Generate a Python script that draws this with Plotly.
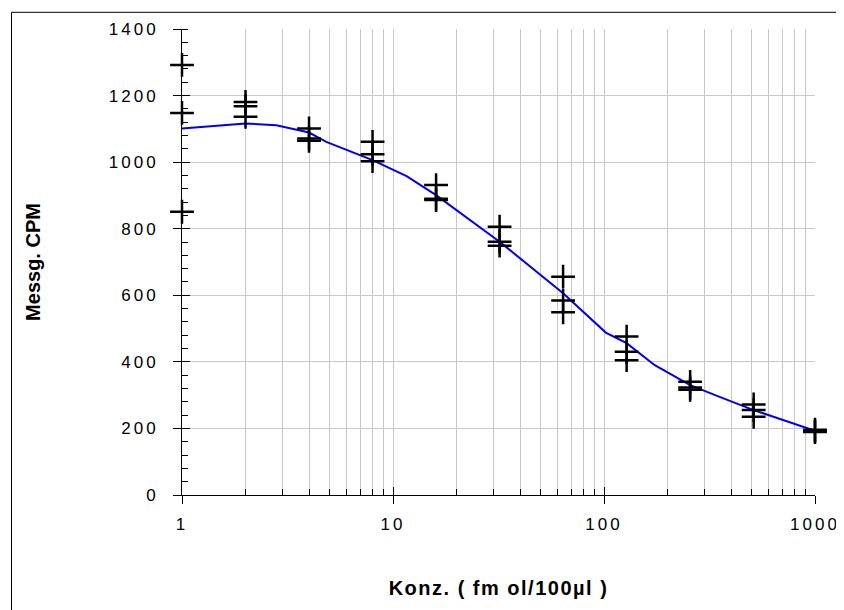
import plotly.graph_objects as go

# measured points (concentration fmol/100µl, CPM)
conc = [1, 1, 1, 2, 2, 2, 4, 4, 4, 8, 8, 8, 16, 16, 16, 32, 32, 32,
        64, 64, 64, 128, 128, 128, 256, 256, 256, 512, 512, 512, 1000, 1000, 1000]
cpm = [1292, 1148, 851, 1181, 1168, 1136, 1101, 1071, 1064, 1061, 1024, 1003,
       931, 890, 886, 806, 761, 749, 656, 584, 549, 476, 430, 405,
       340, 323, 316, 272, 255, 235, 196, 192, 189]

# fitted curve
fit_x = [1, 2, 2.8, 4, 4.83, 8, 11.6, 16, 32, 64, 102, 128, 174, 256, 353, 512, 1000]
fit_y = [1101, 1116, 1111, 1089, 1061, 1006, 958, 901, 761, 606, 488, 456, 390, 330, 295, 255, 193]

x_major = [1, 10, 100, 1000]
x_minor = [m * d for d in (1, 10, 100) for m in range(2, 10)]
y_major = [0, 200, 400, 600, 800, 1000, 1200, 1400]

fig = go.Figure()
fig.add_trace(go.Scatter(x=fit_x, y=fit_y, mode="lines",
                         line=dict(color="#0000f0", width=2), cliponaxis=False,
                         showlegend=False))
fig.add_trace(go.Scatter(x=conc, y=cpm, mode="markers",
                         marker=dict(symbol="cross-thin", size=17,
                                     line=dict(color="black", width=2.5)),
                         cliponaxis=False, showlegend=False))
# dummy trace for overlay axes (inside major ticks)
fig.add_trace(go.Scatter(x=[], y=[], xaxis="x2", yaxis="y2", showlegend=False))

tickfont = dict(family="Liberation Sans, Arial", size=17, color="black")
grid = "#c8c8c8"

W, H = 836, 602
L, R, T, B = 174, 29, 21, 115
pw, ph = W - L - R, H - T - B

fig.update_layout(
    width=W, height=H,
    margin=dict(l=L, r=R, t=T, b=B),
    paper_bgcolor="white", plot_bgcolor="white",
    xaxis=dict(type="log", range=[0, 3], tickvals=x_major,
               ticktext=[str(v) for v in x_major],
               ticks="outside", ticklen=8, tickcolor="black", tickwidth=1,
               showline=True, linecolor="black", linewidth=1,
               showgrid=True, gridcolor=grid, gridwidth=1,
               tickfont=tickfont, ticklabelstandoff=6, automargin=False,
               minor=dict(tickmode="array", tickvals=x_minor, ticks="inside",
                          ticklen=6, tickcolor="black", showgrid=True,
                          gridcolor=grid, gridwidth=1),
               zeroline=False,
               title=dict(text="<b>Konz. ( fm ol/100µl )</b>",
                          font=dict(family="Liberation Sans, Arial", size=20, color="black"),
                          standoff=47)),
    yaxis=dict(range=[0, 1400], tickvals=y_major,
               ticks="outside", ticklen=8, tickcolor="black", tickwidth=1,
               showline=True, linecolor="black", linewidth=1,
               showgrid=True, gridcolor=grid, gridwidth=1,
               tickfont=tickfont, ticklabelstandoff=11, automargin=False,
               minor=dict(dtick=40, ticks="inside", ticklen=6,
                          tickcolor="black", showgrid=False),
               zeroline=False,
               title=dict(text="<b>Messg. CPM</b>",
                          font=dict(family="Liberation Sans, Arial", size=20, color="black"),
                          standoff=74)),
    xaxis2=dict(type="log", range=[0, 3], overlaying="x", anchor="y2",
                tickvals=x_major, ticks="inside", ticklen=8, tickcolor="black",
                showticklabels=False, showgrid=False, showline=False, zeroline=False),
    yaxis2=dict(range=[0, 1400], overlaying="y", anchor="x2", tickvals=y_major,
                ticks="inside", ticklen=8, tickcolor="black",
                showticklabels=False, showgrid=False, showline=False, zeroline=False),
    shapes=[dict(type="rect", xref="paper", yref="paper",
                 x0=(3.5 - L) / pw, x1=(860 - L) / pw,
                 y0=-140 / ph, y1=(ph + T - 4.3) / ph,
                 line=dict(color="black", width=1), layer="below")],
)

post = """
var gd = document.getElementById('{plot_id}');
function sp(){
  gd.querySelectorAll('.xtick text, .ytick text').forEach(function(t){ t.style.letterSpacing = '3px'; });
  var xt = gd.querySelector('.g-xtitle text'); if (xt) { xt.style.letterSpacing = '1.5px'; }
}
sp();
if (gd.on) { gd.on('plotly_afterplot', sp); }
"""

fig.write_html("out.html", post_script=post)
